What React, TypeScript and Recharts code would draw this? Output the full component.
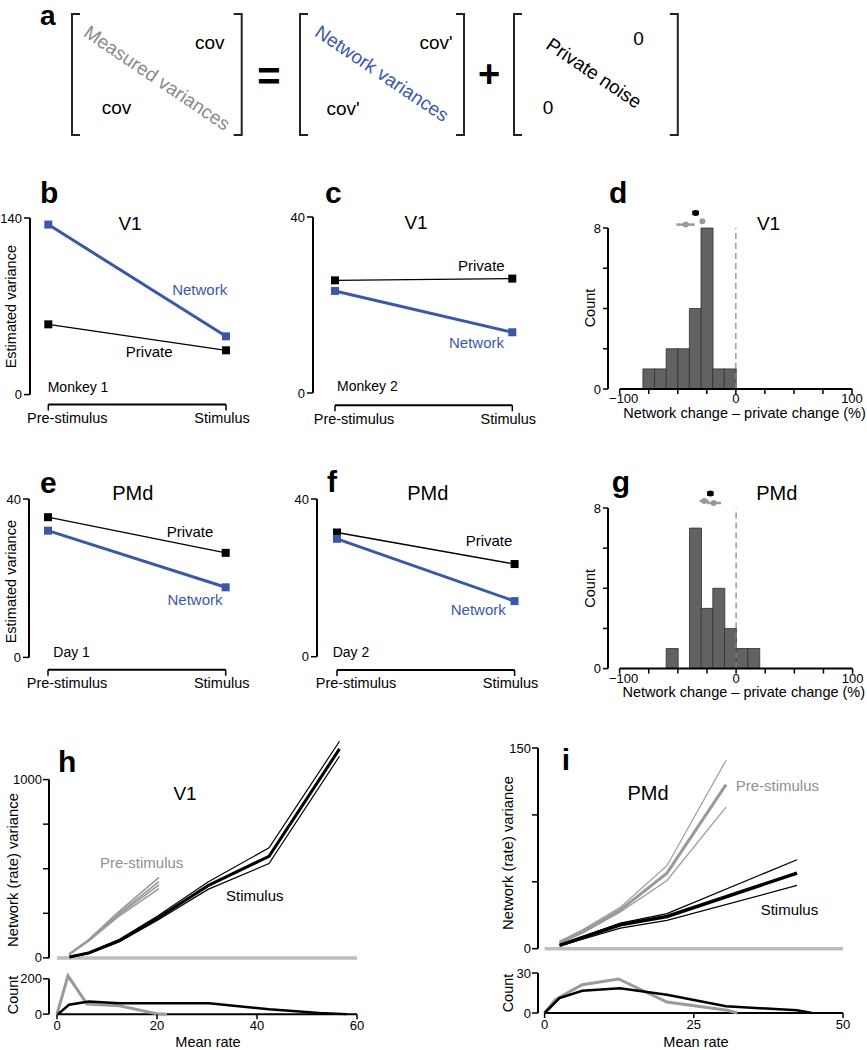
import React from "react";
import {
  Bar,
  BarChart,
  Line,
  LineChart,
  ReferenceDot,
  ReferenceLine,
  XAxis,
  YAxis,
} from "recharts";

const FONT = "'Liberation Sans', Arial, Helvetica, sans-serif";
const BLUE = "#3b58a8";
const GRAY = "#9a9a9a";
const BASE_GRAY = "#bdbdbd";

// panels b, c, e, f
const phases = ["Pre-stimulus", "Stimulus"];
const v1Monkey1Network = [134.8, 46.2];
const v1Monkey1Private = [55.7, 35.1];
const v1Monkey2Network = [23.2, 13.8];
const v1Monkey2Private = [25.6, 26.0];
const pmdDay1Network = [32.0, 17.7];
const pmdDay1Private = [35.4, 26.4];
const pmdDay2Network = [29.9, 14.1];
const pmdDay2Private = [31.5, 23.5];

// panels d, g (10% bins from -100 to 100)
const binStarts = [-100, -90, -80, -70, -60, -50, -40, -30, -20, -10, 0, 10, 20, 30, 40, 50, 60, 70, 80, 90];
const v1Counts = [0, 0, 1, 1, 2, 2, 4, 8, 1, 1, 0, 0, 0, 0, 0, 0, 0, 0, 0, 0];
const pmdCounts = [0, 0, 0, 0, 1, 0, 7, 3, 4, 2, 1, 1, 0, 0, 0, 0, 0, 0, 0, 0];
const pctTicks = [-100, -75, -50, -25, 0, 25, 50, 75, 100];
const pctLabelled = [-100, 0, 100];
const v1Means = [
  { x: -34.6, lo: -37.5, hi: -31.7, row: 8.75, color: "#000" },
  { x: -43.2, lo: -51.2, hi: -35.4, row: 8.17, color: GRAY },
  { x: -28.8, lo: -28.8, hi: -28.8, row: 8.33, color: GRAY },
];
const pmdMeans = [
  { x: -22.1, lo: -25, hi: -19.3, row: 8.72, color: "#000" },
  { x: -27.3, lo: -31.3, hi: -23.5, row: 8.35, color: GRAY },
  { x: -19.3, lo: -25, hi: -13, row: 8.25, color: GRAY },
];

// panel h (V1)
const v1StimRates = [2.5, 6.4, 12.5, 20.2, 30.2, 42.4, 56.5];
const v1StimVar = [5, 28, 97, 224, 405, 570, 1172];
const v1StimVarHi = [7, 32, 104, 236, 425, 617, 1215];
const v1StimVarLo = [3, 24, 90, 212, 384, 529, 1131];
const v1PreRates = [2.4, 6.4, 12.2, 20.4];
const v1PreVarA = [23, 104, 255, 452];
const v1PreVarB = [21, 101, 246, 428];
const v1PreVarC = [19, 99, 238, 410];
const v1PreVarD = [17, 96, 230, 388];
const v1CountPreRates = [0, 2.2, 6, 12.5, 19.9, 22];
const v1CountPre = [0, 217, 57, 47, 2, 0];
const v1CountStimRates = [0.2, 2.4, 6.4, 12.5, 20.2, 30.4, 42.4, 52.5, 58];
const v1CountStim = [0, 53, 71, 62, 61, 62, 28, 6, 0];

// panel i (PMd)
const pmdPreRates = [2.5, 6.5, 12.7, 20.5, 30.4];
const pmdPreVar = [4.7, 13, 29, 56.5, 122.6];
const pmdPreVarHi = [5.5, 14.5, 31, 62, 140.8];
const pmdPreVarLo = [4, 12, 27.5, 51, 105.9];
const pmdStimRates = [2.5, 12.7, 20.5, 42.3];
const pmdStimVar = [2.5, 17.9, 24.1, 56.5];
const pmdStimVarHi = [3, 19.1, 26.2, 66.5];
const pmdStimVarLo = [2, 15.4, 21.2, 47.3];
const pmdCountPreRates = [0, 1.8, 6.3, 12.4, 20.5, 30.6, 32.3];
const pmdCountPre = [0, 10, 21.2, 25.5, 8.2, 2, 0];
const pmdCountStimRates = [0, 2.5, 6.3, 12.6, 20.5, 30.4, 42.3, 44.8];
const pmdCountStim = [0, 11.2, 16.7, 18.5, 13.7, 5, 2, 0];

const AXIS = { stroke: "#000", strokeWidth: 2 };
const TICK = { stroke: "#000", strokeWidth: 1.5 };
const TICK_TEXT = { fill: "#000", fontSize: 13, fontFamily: FONT };

function Txt({ x, y, size = 14.5, anchor = "start", fill = "#000", vertical = false, children }: any) {
  const shift = size * 0.36;
  if (vertical) {
    const bx = x + shift;
    return (
      <text x={bx} y={y} transform={`rotate(-90 ${bx} ${y})`} textAnchor="middle" fontSize={size} fill={fill} fontFamily={FONT}>
        {children}
      </text>
    );
  }
  return (
    <text x={x} y={y + shift} textAnchor={anchor} fontSize={size} fill={fill} fontFamily={FONT}>
      {children}
    </text>
  );
}

function Letter({ x, y, size = 30, children }: any) {
  return (
    <text x={x} y={y} fontSize={size} fontWeight="bold" fontFamily={FONT} fill="#000">
      {children}
    </text>
  );
}

function squareDot(color: string) {
  return (p: any) => <rect key={`sq-${p.index}`} x={p.cx - 4} y={p.cy - 4} width={8} height={8} fill={color} />;
}

function PhaseTick(props: any) {
  const { x, y, payload } = props;
  const nudge = payload.value === 0 ? 19 : -4;
  return (
    <text x={x + nudge} y={y} dy="0.71em" textAnchor="middle" fontSize={14.5} fontFamily={FONT} fill="#000">
      {phases[payload.value]}
    </text>
  );
}

function PctTick(props: any) {
  const { x, y, payload } = props;
  const v = payload.value;
  if (!pctLabelled.includes(v)) return <g />;
  const label = v < 0 ? `\u2212${-v}` : String(v);
  return (
    <text x={v < 0 ? x + 4 : x} y={y} dy="0.71em" textAnchor="middle" fontSize={13} fontFamily={FONT} fill="#000">
      {label}
    </text>
  );
}

interface VarProps {
  axisX: number;
  plotLeft: number;
  plotRight: number;
  yTop: number;
  yZero: number;
  bracketY: number;
  yMax: number;
  network: number[];
  priv: number[];
}

function VariancePanel(p: VarProps) {
  const left = p.axisX - 40;
  const top = p.yTop - 12;
  const width = p.plotRight + 45 - left;
  const height = p.bracketY + 30 - top;
  const data = phases.map((_, i) => ({ x: i, network: p.network[i], priv: p.priv[i] }));
  return (
    <div style={{ position: "absolute", left, top }}>
      <LineChart width={width} height={height} data={data} margin={{ top: 12, right: 45, bottom: 0, left: 0 }}>
        <XAxis dataKey="x" type="number" domain={[0, 1]} height={p.bracketY - p.yZero} tick={false} tickLine={false} axisLine={false} />
        <XAxis
          xAxisId="bracket"
          dataKey="x"
          type="number"
          domain={[0, 1]}
          allowDataOverflow
          ticks={[0, 1]}
          interval={0}
          height={30}
          tickSize={6}
          axisLine={AXIS}
          tickLine={TICK}
          tick={PhaseTick}
        />
        <YAxis width={p.plotLeft - p.axisX} domain={[0, p.yMax]} tick={false} tickLine={false} axisLine={false} />
        <YAxis
          yAxisId="axis"
          width={40}
          domain={[0, p.yMax]}
          allowDataOverflow
          ticks={[0, p.yMax]}
          interval={0}
          tickSize={6}
          tickMargin={2}
          axisLine={AXIS}
          tickLine={TICK}
          tick={TICK_TEXT}
        />
        <Line dataKey="priv" stroke="#000" strokeWidth={1.3} dot={squareDot("#000")} activeDot={false} isAnimationActive={false} />
        <Line dataKey="network" stroke={BLUE} strokeWidth={3} dot={squareDot(BLUE)} activeDot={false} isAnimationActive={false} />
      </LineChart>
    </div>
  );
}

interface HistProps {
  axisX: number;
  plotLeft: number;
  plotRight: number;
  yTop: number;
  yZero: number;
  counts: number[];
  means: { x: number; lo: number; hi: number; row: number; color: string }[];
}

function HistPanel(p: HistProps) {
  const left = p.axisX - 40;
  const top = p.yTop - 30;
  const width = p.plotRight + 14 - left;
  const height = p.yZero + 30 - top;
  const data = binStarts.map((b, i) => ({ mid: b + 5, count: p.counts[i] }));
  return (
    <div style={{ position: "absolute", left, top }}>
      <BarChart width={width} height={height} data={data} margin={{ top: 30, right: 14, bottom: 0, left: 0 }} barCategoryGap={0} barGap={0}>
        <XAxis
          dataKey="mid"
          type="number"
          scale="linear"
          domain={[-100, 100]}
          allowDataOverflow
          ticks={pctTicks}
          interval={0}
          height={30}
          tickSize={5}
          tickMargin={0}
          axisLine={AXIS}
          tickLine={TICK}
          tick={PctTick}
        />
        <YAxis width={p.plotLeft - p.axisX} domain={[0, 8]} tick={false} tickLine={false} axisLine={false} />
        <YAxis
          yAxisId="axis"
          width={40}
          domain={[0, 8]}
          allowDataOverflow
          ticks={[0, 2, 4, 6, 8]}
          interval={0}
          tickFormatter={(v: number) => (v === 0 || v === 8 ? String(v) : "")}
          tickSize={5}
          tickMargin={2}
          axisLine={AXIS}
          tickLine={TICK}
          tick={TICK_TEXT}
        />
        <Bar dataKey="count" fill="#626262" stroke="#2e2e2e" strokeWidth={0.8} isAnimationActive={false} />
        <ReferenceLine x={0} stroke="#8a8a8a" strokeWidth={1.3} strokeDasharray="6 4" />
        {p.means.map((m, i) =>
          m.hi > m.lo ? (
            <ReferenceLine
              key={`e${i}`}
              ifOverflow="visible"
              segment={[{ x: m.lo, y: m.row }, { x: m.hi, y: m.row }]}
              stroke={m.color}
              strokeWidth={m.color === "#000" ? 4.5 : 2.5}
            />
          ) : null
        )}
        {p.means.map((m, i) => (
          <ReferenceDot key={`d${i}`} ifOverflow="visible" x={m.x} y={m.row} r={3} fill={m.color} stroke="none" />
        ))}
      </BarChart>
    </div>
  );
}

interface Series {
  xs: number[];
  ys: number[];
  color: string;
  width: number;
}

interface RateProps {
  axisX: number;
  pad: number;
  plotRight: number;
  xMax: number;
  xTicks?: number[];
  yZero: number;
  yAxisTopPx: number;
  axisMax: number;
  domainMax: number;
  yTicks: number[];
  series: Series[];
  baseline?: boolean;
}

function RateChart(p: RateProps) {
  const left = p.axisX - 40;
  const pxPerY = (p.yZero - p.yAxisTopPx) / p.axisMax;
  const plotTop = p.yZero - p.domainMax * pxPerY;
  const top = plotTop - 6;
  const showX = !!p.xTicks;
  const width = p.plotRight + 22 - left;
  const height = p.yZero + (showX ? 35 : 11) - top;
  const axisLineX = (-p.pad * p.xMax) / (p.plotRight - p.axisX - p.pad);
  return (
    <div style={{ position: "absolute", left, top }}>
      <LineChart width={width} height={height} margin={{ top: 6, right: 22, bottom: showX ? 0 : 11, left: 0 }}>
        <XAxis
          dataKey="x"
          type="number"
          domain={[0, p.xMax]}
          ticks={p.xTicks}
          interval={0}
          padding={{ left: p.pad, right: 0 }}
          hide={!showX}
          height={35}
          axisLine={false}
          tickLine={TICK}
          tickSize={5}
          tick={TICK_TEXT}
        />
        <YAxis
          dataKey="y"
          type="number"
          width={40}
          domain={[0, p.domainMax]}
          ticks={p.yTicks}
          interval={0}
          tickFormatter={(v: number) => (v === 0 || v === p.axisMax ? String(v) : "")}
          axisLine={false}
          tickLine={TICK}
          tickSize={6}
          tickMargin={1}
          tick={TICK_TEXT}
        />
        <ReferenceLine ifOverflow="visible" segment={[{ x: axisLineX, y: 0 }, { x: axisLineX, y: p.axisMax }]} stroke="#000" strokeWidth={2} />
        {showX && <ReferenceLine ifOverflow="visible" segment={[{ x: 0, y: 0 }, { x: p.xMax, y: 0 }]} stroke="#000" strokeWidth={2} />}
        {p.baseline && <ReferenceLine ifOverflow="visible" segment={[{ x: 0, y: 0 }, { x: p.xMax, y: 0 }]} stroke={BASE_GRAY} strokeWidth={3.5} />}
        {p.series.map((s, i) => (
          <Line
            key={i}
            data={s.xs.map((x, j) => ({ x, y: s.ys[j] }))}
            dataKey="y"
            stroke={s.color}
            strokeWidth={s.width}
            dot={false}
            activeDot={false}
            isAnimationActive={false}
          />
        ))}
      </LineChart>
    </div>
  );
}

function Bracket({ x, side }: { x: number; side: "l" | "r" }) {
  const s = side === "l" ? 8 : -8;
  return <path d={`M${x + s},14 H${x} V135 H${x + s}`} fill="none" stroke="#222" strokeWidth={2} />;
}

function Diag({ x, y, fill, children }: any) {
  return (
    <text
      x={x}
      y={y}
      transform={`rotate(34 ${x} ${y})`}
      textAnchor="middle"
      dominantBaseline="central"
      fontSize={19}
      fill={fill}
      fontFamily={FONT}
    >
      {children}
    </text>
  );
}

export default function App() {
  const v1Rate: Series[] = [
    { xs: v1PreRates, ys: v1PreVarA, color: GRAY, width: 1.6 },
    { xs: v1PreRates, ys: v1PreVarB, color: GRAY, width: 1.6 },
    { xs: v1PreRates, ys: v1PreVarC, color: GRAY, width: 1.6 },
    { xs: v1PreRates, ys: v1PreVarD, color: GRAY, width: 1.6 },
    { xs: v1StimRates, ys: v1StimVarHi, color: "#000", width: 1.2 },
    { xs: v1StimRates, ys: v1StimVarLo, color: "#000", width: 1.2 },
    { xs: v1StimRates, ys: v1StimVar, color: "#000", width: 3 },
  ];
  const v1Count: Series[] = [
    { xs: v1CountPreRates, ys: v1CountPre, color: GRAY, width: 3 },
    { xs: v1CountStimRates, ys: v1CountStim, color: "#000", width: 2.5 },
  ];
  const pmdRate: Series[] = [
    { xs: pmdPreRates, ys: pmdPreVarHi, color: GRAY, width: 1.2 },
    { xs: pmdPreRates, ys: pmdPreVarLo, color: GRAY, width: 1.2 },
    { xs: pmdPreRates, ys: pmdPreVar, color: GRAY, width: 3 },
    { xs: pmdStimRates, ys: pmdStimVarHi, color: "#000", width: 1.2 },
    { xs: pmdStimRates, ys: pmdStimVarLo, color: "#000", width: 1.2 },
    { xs: pmdStimRates, ys: pmdStimVar, color: "#000", width: 3.5 },
  ];
  const pmdCount: Series[] = [
    { xs: pmdCountPreRates, ys: pmdCountPre, color: GRAY, width: 3 },
    { xs: pmdCountStimRates, ys: pmdCountStim, color: "#000", width: 2.5 },
  ];

  return (
    <div style={{ position: "absolute", left: 0, top: 0, width: 867, height: 1050, background: "#fff", overflow: "hidden" }}>
      {/* a: matrix decomposition */}
      <svg width={867} height={150} style={{ position: "absolute", left: 0, top: 0 }}>
        <Letter x={40} y={25} size={28}>a</Letter>
        <Bracket x={72} side="l" />
        <Bracket x={241.7} side="r" />
        <Diag x={157} y={78} fill="#8a8a8a">Measured variances</Diag>
        <Txt x={209.7} y={41.7} size={19} anchor="middle">cov</Txt>
        <Txt x={116.5} y={106.7} size={19} anchor="middle">cov</Txt>
        <text x={269} y={90} textAnchor="middle" fontSize={40} fontWeight="bold" fontFamily={FONT}>=</text>
        <Bracket x={300} side="l" />
        <Bracket x={464} side="r" />
        <Diag x={382} y={73.5} fill={BLUE}>Network variances</Diag>
        <Txt x={436} y={41.7} size={19} anchor="middle">cov'</Txt>
        <Txt x={343} y={108} size={19} anchor="middle">cov'</Txt>
        <text x={489} y={87} textAnchor="middle" fontSize={38} fontWeight="bold" fontFamily={FONT}>+</text>
        <Bracket x={514} side="l" />
        <Bracket x={677.8} side="r" />
        <Diag x={594} y={73} fill="#000">Private noise</Diag>
        <Txt x={638.5} y={38.3} size={19} anchor="middle">0</Txt>
        <Txt x={548} y={106.7} size={19} anchor="middle">0</Txt>
      </svg>

      <VariancePanel axisX={30} plotLeft={48.3} plotRight={226} yTop={217.7} yZero={394.3} bracketY={404.3} yMax={140} network={v1Monkey1Network} priv={v1Monkey1Private} />
      <VariancePanel axisX={313} plotLeft={335} plotRight={512.3} yTop={216.7} yZero={392.7} bracketY={405} yMax={40} network={v1Monkey2Network} priv={v1Monkey2Private} />
      <HistPanel axisX={608.3} plotLeft={620} plotRight={852.3} yTop={227.7} yZero={388.7} counts={v1Counts} means={v1Means} />

      <VariancePanel axisX={29.3} plotLeft={48.3} plotRight={226} yTop={499.3} yZero={657.7} bracketY={670} yMax={40} network={pmdDay1Network} priv={pmdDay1Private} />
      <VariancePanel axisX={316.7} plotLeft={336.7} plotRight={514.3} yTop={499} yZero={656.7} bracketY={670} yMax={40} network={pmdDay2Network} priv={pmdDay2Private} />
      <HistPanel axisX={607.7} plotLeft={619.3} plotRight={852.3} yTop={507.7} yZero={668.3} counts={pmdCounts} means={pmdMeans} />

      <RateChart axisX={49.3} pad={8} plotRight={357.3} xMax={60} yZero={958.3} yAxisTopPx={780} axisMax={1000} domainMax={1250} yTicks={[0, 250, 500, 750, 1000]} series={v1Rate} baseline />
      <RateChart axisX={49.3} pad={8} plotRight={357.3} xMax={60} xTicks={[0, 20, 40, 60]} yZero={1014.3} yAxisTopPx={979} axisMax={200} domainMax={250} yTicks={[0, 200]} series={v1Count} />
      <RateChart axisX={537.7} pad={6.6} plotRight={842.7} xMax={50} yZero={949} yAxisTopPx={748.3} axisMax={150} domainMax={150} yTicks={[0, 50, 100, 150]} series={pmdRate} baseline />
      <RateChart axisX={537.7} pad={6.6} plotRight={842.7} xMax={50} xTicks={[0, 25, 50]} yZero={1013.3} yAxisTopPx={973.3} axisMax={30} domainMax={30} yTicks={[0, 30]} series={pmdCount} />

      {/* annotations */}
      <svg width={867} height={1050} style={{ position: "absolute", left: 0, top: 0, pointerEvents: "none" }}>
        <Letter x={40} y={203.3}>b</Letter>
        <Letter x={325} y={203.3}>c</Letter>
        <Letter x={609} y={203.3}>d</Letter>
        <Letter x={40} y={493}>e</Letter>
        <Letter x={327} y={492}>f</Letter>
        <Letter x={611.7} y={492}>g</Letter>
        <Letter x={58} y={772}>h</Letter>
        <Letter x={561.7} y={770}>i</Letter>

        <Txt x={130} y={223} size={19} anchor="middle">V1</Txt>
        <Txt x={416} y={221.7} size={19} anchor="middle">V1</Txt>
        <Txt x={768.5} y={223} size={19} anchor="middle">V1</Txt>
        <Txt x={185} y={792.7} size={19} anchor="middle">V1</Txt>
        <Txt x={132.8} y={493} size={20} anchor="middle">PMd</Txt>
        <Txt x={427.8} y={493} size={20} anchor="middle">PMd</Txt>
        <Txt x={776.8} y={493} size={20} anchor="middle">PMd</Txt>
        <Txt x={648} y={792.7} size={20} anchor="middle">PMd</Txt>

        <Txt x={199.7} y={290} size={15} anchor="middle" fill={BLUE}>Network</Txt>
        <Txt x={149.2} y={351.7} size={15} anchor="middle">Private</Txt>
        <Txt x={481.3} y={265.7} size={15} anchor="middle">Private</Txt>
        <Txt x={476.5} y={342.7} size={15} anchor="middle" fill={BLUE}>Network</Txt>
        <Txt x={190} y={531.7} size={15} anchor="middle">Private</Txt>
        <Txt x={195} y={599.3} size={15} anchor="middle" fill={BLUE}>Network</Txt>
        <Txt x={489} y={540.7} size={15} anchor="middle">Private</Txt>
        <Txt x={478.3} y={610} size={15} anchor="middle" fill={BLUE}>Network</Txt>

        <Txt x={47.7} y={387} size={14}>Monkey 1</Txt>
        <Txt x={337} y={385.5} size={14}>Monkey 2</Txt>
        <Txt x={53.3} y={651.5} size={14}>Day 1</Txt>
        <Txt x={332.7} y={651.5} size={14}>Day 2</Txt>

        <Txt x={10.5} y={306.7} vertical>Estimated variance</Txt>
        <Txt x={10.5} y={581.7} vertical>Estimated variance</Txt>
        <Txt x={590} y={308} vertical>Count</Txt>
        <Txt x={590} y={588.3} vertical>Count</Txt>
        <Txt x={744.5} y={413} anchor="middle">Network change – private change (%)</Txt>
        <Txt x={743.8} y={692} anchor="middle">Network change – private change (%)</Txt>

        <Txt x={13} y={870} size={14.8} vertical>Network (rate) variance</Txt>
        <Txt x={508} y={853} size={14.8} vertical>Network (rate) variance</Txt>
        <Txt x={12.7} y={995} vertical>Count</Txt>
        <Txt x={508} y={993} vertical>Count</Txt>
        <Txt x={208} y={1042} anchor="middle">Mean rate</Txt>
        <Txt x={696} y={1042} anchor="middle">Mean rate</Txt>
        <Txt x={100} y={862.7} size={15} fill="#8f8f8f">Pre-stimulus</Txt>
        <Txt x={226} y={896} size={15}>Stimulus</Txt>
        <Txt x={735.7} y={786} size={15} fill="#8f8f8f">Pre-stimulus</Txt>
        <Txt x={760.7} y={909.3} size={15}>Stimulus</Txt>
      </svg>
    </div>
  );
}
